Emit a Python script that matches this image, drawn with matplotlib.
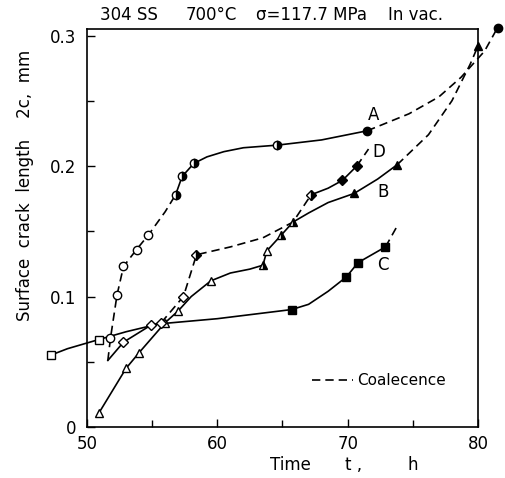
import matplotlib
matplotlib.use("Agg")
import matplotlib.pyplot as plt

# ---- data (t in h, 2c in mm) ----
# curve A (circles)
A_dash1_t = [51.6, 51.8, 52.3, 52.8, 53.8, 54.7, 56.0, 56.8]
A_dash1_c = [0.051, 0.068, 0.101, 0.123, 0.136, 0.147, 0.165, 0.178]
A_solid_t = [56.8, 57.3, 58.2, 59.2, 60.5, 62.0, 64.6, 68.0, 71.5]
A_solid_c = [0.178, 0.192, 0.202, 0.207, 0.211, 0.214, 0.216, 0.220, 0.227]
A_dash2_t = [71.5, 74.7, 77.0, 78.7, 80.5, 81.5]
A_dash2_c = [0.227, 0.240, 0.253, 0.268, 0.288, 0.306]
A_open_t = [51.8, 52.3, 52.8, 53.8, 54.7]
A_open_c = [0.068, 0.101, 0.123, 0.136, 0.147]
A_half_t = [56.8, 57.3, 58.2, 64.6]
A_half_c = [0.178, 0.192, 0.202, 0.216]
A_full_t = [71.5, 81.5]
A_full_c = [0.227, 0.306]

# curve B (triangles)
B_solid_t = [50.9, 53.0, 54.0, 56.0, 57.0, 58.0, 59.5, 61.0, 62.5, 63.5, 63.8, 64.9, 65.8, 67.0, 68.5, 70.5, 72.3, 73.8]
B_solid_c = [0.0105, 0.045, 0.057, 0.080, 0.089, 0.100, 0.112, 0.118, 0.121, 0.124, 0.135, 0.147, 0.157, 0.164, 0.172, 0.179, 0.190, 0.201]
B_dash_t = [73.8, 76.2, 78.0, 78.7, 79.4, 80.0]
B_dash_c = [0.201, 0.224, 0.250, 0.264, 0.278, 0.292]
B_open_t = [50.9, 53.0, 54.0, 56.0, 57.0, 59.5, 63.8]
B_open_c = [0.0105, 0.045, 0.057, 0.080, 0.089, 0.112, 0.135]
B_half_t = [63.5, 64.9, 65.8]
B_half_c = [0.124, 0.147, 0.157]
B_full_t = [70.5, 73.8, 80.0]
B_full_c = [0.179, 0.201, 0.292]

# curve C (squares)
C_solid_t = [47.2, 48.5, 50.9, 53.0, 55.5, 60.0, 65.7, 67.0, 68.5, 69.9, 70.8, 72.9]
C_solid_c = [0.055, 0.060, 0.067, 0.073, 0.079, 0.083, 0.090, 0.094, 0.104, 0.115, 0.126, 0.138]
C_dash_t = [72.9, 73.8]
C_dash_c = [0.138, 0.154]
C_open_t = [47.2, 50.9]
C_open_c = [0.055, 0.067]
C_full_t = [65.7, 69.9, 70.8, 72.9]
C_full_c = [0.090, 0.115, 0.126, 0.138]

# curve D (diamonds)
D_solid1_t = [51.6, 52.8, 54.9, 55.7]
D_solid1_c = [0.051, 0.065, 0.078, 0.080]
D_dash1_t = [55.7, 57.4, 58.4, 61.0, 63.5, 65.8, 67.2]
D_dash1_c = [0.080, 0.100, 0.132, 0.138, 0.145, 0.157, 0.178]
D_solid2_t = [67.2, 68.5, 69.6, 70.7]
D_solid2_c = [0.178, 0.183, 0.189, 0.200]
D_dash2_t = [70.7, 71.6]
D_dash2_c = [0.200, 0.213]
D_open_t = [52.8, 54.9, 55.7, 57.4]
D_open_c = [0.065, 0.078, 0.080, 0.100]
D_half_t = [58.4, 67.2]
D_half_c = [0.132, 0.178]
D_full_t = [69.6, 70.7]
D_full_c = [0.189, 0.200]

fig = plt.figure(figsize=(5.06, 4.78), dpi=100)
ax = fig.add_axes([87/506, 1 - 427/478, 391/506, 398/478])

lw = 1.2
dash = (0, (5, 3))

def line(t, c, ls):
    ax.plot(t, c, color="black", lw=lw, linestyle=ls, clip_on=False, zorder=2)

def pts(t, c, m, fill, ms=6):
    if fill == "full":
        ax.plot(t, c, m, color="black", ms=ms, clip_on=False, zorder=3)
    elif fill == "half":
        ax.plot(t, c, m, color="black", mfc="black", mfcalt="white", fillstyle="right",
                ms=ms, mew=1.0, clip_on=False, zorder=3)
    else:
        ax.plot(t, c, m, color="black", mfc="white", ms=ms, mew=1.0, clip_on=False, zorder=3)

line(A_dash1_t, A_dash1_c, dash)
line(A_solid_t, A_solid_c, "-")
line(A_dash2_t, A_dash2_c, dash)
line(B_solid_t, B_solid_c, "-")
line(B_dash_t, B_dash_c, dash)
line(C_solid_t, C_solid_c, "-")
line(C_dash_t, C_dash_c, dash)
line(D_solid1_t, D_solid1_c, "-")
line(D_dash1_t, D_dash1_c, dash)
line(D_solid2_t, D_solid2_c, "-")
line(D_dash2_t, D_dash2_c, dash)

pts(A_open_t, A_open_c, "o", "open")
pts(A_half_t, A_half_c, "o", "half")
pts(A_full_t, A_full_c, "o", "full")
pts(B_open_t, B_open_c, "^", "open")
pts(B_half_t, B_half_c, "^", "half")
pts(B_full_t, B_full_c, "^", "full")
pts(C_open_t, C_open_c, "s", "open", 5.5)
pts(C_full_t, C_full_c, "s", "full", 5.5)
pts(D_open_t, D_open_c, "D", "open", 5)
pts(D_half_t, D_half_c, "D", "half", 5)
pts(D_full_t, D_full_c, "D", "full", 5)

fs = 12
ax.text(72.0, 0.239, "A", fontsize=fs, ha="center", va="center")
ax.text(72.4, 0.211, "D", fontsize=fs, ha="center", va="center")
ax.text(72.7, 0.180, "B", fontsize=fs, ha="center", va="center")
ax.text(72.7, 0.124, "C", fontsize=fs, ha="center", va="center")

# legend
ax.plot([67.3, 70.4], [0.036, 0.036], color="black", lw=lw, linestyle=dash)
ax.text(70.7, 0.036, "Coalecence", fontsize=11, ha="left", va="center")

ax.set_xlim(50, 80)
ax.set_ylim(0, 0.305)
ax.set_xticks([50, 60, 70, 80])
ax.set_xticks([55, 65, 75], minor=True)
ax.set_yticks([0, 0.1, 0.2, 0.3])
ax.set_yticks([0.05, 0.15, 0.25], minor=True)
ax.set_xticklabels(["50", "60", "70", "80"])
ax.set_yticklabels(["0", "0.1", "0.2", "0.3"])
ax.tick_params(direction="in", length=6, width=1, labelsize=fs, pad=6)
ax.tick_params(which="minor", direction="in", length=5, width=1)
ax.tick_params(axis="y", pad=8)
for s in ax.spines.values():
    s.set_linewidth(1.2)

# title pieces
fig.text(100/506, 1 - 15/478, "304 SS", fontsize=fs, ha="left", va="center")
fig.text(186/506, 1 - 15/478, "700°C", fontsize=fs, ha="left", va="center")
fig.text(256/506, 1 - 15/478, "σ=117.7 MPa", fontsize=fs, ha="left", va="center")
fig.text(388/506, 1 - 15/478, "In vac.", fontsize=fs, ha="left", va="center")

# axis labels
fig.text(25/506, 1 - 185/478, "Surface  crack  length    2c,  mm", fontsize=fs,
         rotation=90, ha="center", va="center")
fig.text(270/506, 1 - 465/478, "Time", fontsize=fs, ha="left", va="center")
fig.text(345/506, 1 - 465/478, "t ,", fontsize=fs, ha="left", va="center")
fig.text(408/506, 1 - 465/478, "h", fontsize=fs, ha="left", va="center")

fig.savefig("out.png", dpi=100)
